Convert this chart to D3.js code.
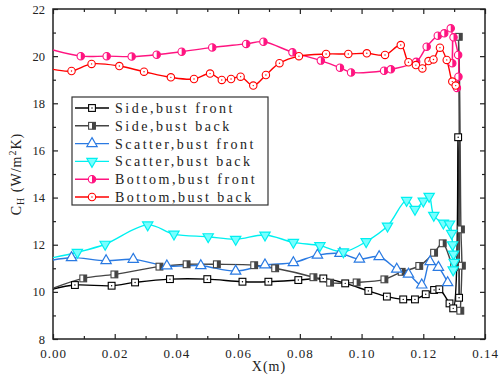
<!DOCTYPE html>
<html>
<head>
<meta charset="utf-8">
<script src="https://cdnjs.cloudflare.com/ajax/libs/d3/7.8.5/d3.min.js"></script>
<style>
  body { margin: 0; background: #fff; }
  svg { display: block; }
  text { font-family: "Liberation Serif", "DejaVu Serif", serif; fill: #222; }
</style>
</head>
<body>
<svg id="chart"></svg>
<script>
// data: [X (m), C_H (W/m2K)]
const sideFront = [
  [0, 10.12], [0.0071, 10.29], [0.019, 10.26], [0.0266, 10.40], [0.0379, 10.54], [0.050, 10.54],
  [0.0614, 10.43], [0.0698, 10.43], [0.0795, 10.50], [0.0876, 10.57], [0.0947, 10.36],
  [0.1022, 10.04], [0.1082, 9.80], [0.1135, 9.68], [0.1173, 9.68], [0.1208, 9.90],
  [0.1235, 10.08], [0.1252, 10.11], [0.1285, 9.51], [0.1297, 9.30], [0.1313, 16.56], [0.1316, 9.75]
];
const sideBack = [
  [0, 10.15], [0.0098, 10.57], [0.0199, 10.74], [0.0345, 11.07], [0.0433, 11.17], [0.0531, 11.17],
  [0.0652, 11.13], [0.0720, 11.0], [0.0844, 10.62], [0.0898, 10.39], [0.0984, 10.40],
  [0.1074, 10.53], [0.1130, 10.85], [0.1187, 11.10], [0.1235, 11.66], [0.1263, 12.06],
  [0.1300, 11.05], [0.1315, 20.82], [0.1322, 12.65], [0.1325, 11.11], [0.1320, 9.2]
];
const scatterFront = [
  [0, 11.35], [0.006, 11.45], [0.0172, 11.32], [0.026, 11.38], [0.0369, 11.10], [0.0479, 11.11],
  [0.0592, 10.88], [0.0687, 11.14], [0.0779, 11.24], [0.0857, 11.56], [0.093, 11.63],
  [0.0993, 11.39], [0.1057, 11.49], [0.1114, 10.96], [0.1152, 10.75], [0.1195, 10.29],
  [0.1222, 11.28], [0.1249, 11.04], [0.1279, 10.39]
];
const scatterBack = [
  [0, 11.45], [0.0079, 11.68], [0.0169, 12.02], [0.0307, 12.84], [0.0392, 12.45], [0.0503, 12.34],
  [0.0592, 12.23], [0.0687, 12.41], [0.0779, 12.10], [0.0865, 11.96], [0.0941, 11.70],
  [0.1015, 12.13], [0.1084, 12.79], [0.1146, 13.88], [0.1173, 13.5], [0.1200, 13.85],
  [0.1219, 14.05], [0.1234, 13.25], [0.1265, 12.92], [0.1285, 12.88], [0.1292, 12.48],
  [0.1295, 12.0], [0.1298, 11.6], [0.1300, 11.25], [0.1297, 10.93]
];
const bottomFront = [
  [0, 20.26], [0.009, 20.0], [0.0174, 20.0], [0.0255, 19.98], [0.0336, 20.06], [0.0417, 20.19],
  [0.0516, 20.37], [0.0626, 20.52], [0.0682, 20.61], [0.0776, 20.16], [0.0868, 19.81],
  [0.093, 19.51], [0.0966, 19.31], [0.1073, 19.38], [0.1095, 19.44], [0.1177, 19.76],
  [0.1211, 20.40], [0.1247, 20.87], [0.1268, 20.97], [0.1289, 21.18], [0.1294, 19.7],
  [0.1298, 20.8], [0.1313, 20.05], [0.1314, 19.13], [0.1309, 18.65]
];
const bottomBack = [
  [0, 19.44], [0.006, 19.37], [0.0125, 19.67], [0.0215, 19.58], [0.0295, 19.34], [0.0382, 19.10],
  [0.0457, 19.03], [0.0509, 19.26], [0.0547, 18.99], [0.0577, 19.03], [0.0608, 19.13],
  [0.0649, 18.75], [0.069, 19.20], [0.0734, 19.70], [0.0797, 20.0], [0.0885, 20.09],
  [0.0957, 20.09], [0.1017, 20.12], [0.1076, 20.05], [0.1127, 20.47], [0.1152, 19.74],
  [0.1176, 19.62], [0.1197, 19.48], [0.1217, 19.79], [0.1233, 19.86], [0.1254, 20.36],
  [0.1276, 19.84], [0.1294, 18.92], [0.1305, 18.75]
];

const legendNames = ["Side,bust front", "Side,bust back", "Scatter,bust front",
  "Scatter,bust back", "Bottom,bust front", "Bottom,bust back"];
const xTicks = [0, 0.02, 0.04, 0.06, 0.08, 0.10, 0.12, 0.14];
const yTicks = [8, 10, 12, 14, 16, 18, 20, 22];

const series = [
  { data: sideFront, color: "#000000", marker: "squareDot" },
  { data: sideBack, color: "#444444", marker: "squareHalf" },
  { data: scatterFront, color: "#2a7ae2", marker: "triUp" },
  { data: scatterBack, color: "#00f0f0", marker: "triDown" },
  { data: bottomFront, color: "#ff1480", marker: "circleHalf" },
  { data: bottomBack, color: "#ff0000", marker: "circleDot" }
];

const W = 501, H = 379;
const margin = { top: 9, right: 16, bottom: 40, left: 53 };
const width = W - margin.left - margin.right;
const height = H - margin.top - margin.bottom;

const svg = d3.select("#chart").attr("width", W).attr("height", H);
const g = svg.append("g").attr("transform", "translate(" + margin.left + "," + margin.top + ")");

const x = d3.scaleLinear().domain([0, 0.14]).range([0, width]);
const y = d3.scaleLinear().domain([8, 22]).range([height, 0]);

const xMinor = d3.range(0.01, 0.14, 0.02);
const yMinor = d3.range(9, 22, 2);

function styleAxis(sel, fs) {
  sel.select(".domain").remove();
  sel.selectAll("line").attr("stroke", "#222").attr("stroke-width", 1.2);
  sel.selectAll("text").attr("font-size", (fs || 13) + "px").attr("fill", "#333");
}

// bottom
g.append("g").attr("transform", "translate(0," + height + ")")
  .call(d3.axisBottom(x).tickValues(xTicks).tickSize(-5).tickPadding(10).tickFormat(d3.format(".2f")))
  .call(styleAxis)
  .selectAll("text").attr("letter-spacing", "1px");
g.append("g").attr("transform", "translate(0," + height + ")")
  .call(d3.axisBottom(x).tickValues(xMinor).tickSize(-3).tickFormat(""))
  .call(styleAxis);
// top
g.append("g").call(d3.axisTop(x).tickValues(xTicks).tickSize(-5).tickFormat("")).call(styleAxis);
g.append("g").call(d3.axisTop(x).tickValues(xMinor).tickSize(-3).tickFormat("")).call(styleAxis);
// left
g.append("g")
  .call(d3.axisLeft(y).tickValues(yTicks).tickSize(-5).tickPadding(8).tickFormat(d3.format("d")))
  .call(styleAxis, 12.5);
g.append("g").call(d3.axisLeft(y).tickValues(yMinor).tickSize(-3).tickFormat("")).call(styleAxis);
// right
g.append("g").attr("transform", "translate(" + width + ",0)")
  .call(d3.axisRight(y).tickValues(yTicks).tickSize(-5).tickFormat("")).call(styleAxis);
g.append("g").attr("transform", "translate(" + width + ",0)")
  .call(d3.axisRight(y).tickValues(yMinor).tickSize(-3).tickFormat("")).call(styleAxis);

// frame
g.append("rect").attr("width", width).attr("height", height)
  .attr("fill", "none").attr("stroke", "#222").attr("stroke-width", 1.5);

// axis titles
svg.append("text")
  .attr("x", margin.left + width / 2).attr("y", H - 8)
  .attr("text-anchor", "middle").attr("font-size", "14px").attr("letter-spacing", "1px").attr("fill", "#333")
  .text("X(m)");

const yt = svg.append("text")
  .attr("transform", "translate(21," + (margin.top + height / 2) + ") rotate(-90)")
  .attr("text-anchor", "middle").attr("font-size", "14px").attr("letter-spacing", "1px").attr("fill", "#333");
yt.append("tspan").text("C");
yt.append("tspan").attr("font-size", "10px").attr("dy", "3").text("H");
yt.append("tspan").attr("dy", "-3").text(" (W/m");
yt.append("tspan").attr("font-size", "10px").attr("dy", "-5").text("2");
yt.append("tspan").attr("dy", "5").text("K)");

// markers
function drawMarker(sel, type, color) {
  const r = 3.4;
  if (type === "squareDot" || type === "squareHalf") {
    sel.append("rect").attr("x", -r).attr("y", -r).attr("width", 2 * r).attr("height", 2 * r)
      .attr("fill", "#fff").attr("stroke", color).attr("stroke-width", 1.1);
    if (type === "squareDot") {
      sel.append("circle").attr("r", 0.7).attr("fill", color);
    } else {
      sel.append("rect").attr("x", 0).attr("y", -r).attr("width", r).attr("height", 2 * r).attr("fill", color);
    }
  } else if (type === "triUp" || type === "triDown") {
    sel.append("path")
      .attr("d", d3.symbol(d3.symbolTriangle, 46)())
      .attr("transform", type === "triDown" ? "rotate(180)" : null)
      .attr("fill", type === "triDown" ? "#7ff" : "#fff")
      .attr("stroke", color).attr("stroke-width", 1.2);
  } else {
    sel.append("circle").attr("r", r + 0.3).attr("fill", "#fff").attr("stroke", color).attr("stroke-width", 1.1);
    if (type === "circleDot") {
      sel.append("circle").attr("r", 0.7).attr("fill", color);
    } else {
      const rr = r + 0.3;
      sel.append("path").attr("d", "M0," + (-rr) + "A" + rr + "," + rr + " 0 0,1 0," + rr + "Z").attr("fill", color);
    }
  }
}

const line = d3.line()
  .x(d => x(d[0]))
  .y(d => y(d[1]))
  .curve(d3.curveCatmullRom.alpha(0.5));

svg.append("defs").append("clipPath").attr("id", "plotClip")
  .append("rect").attr("width", width).attr("height", height);

const plot = g.append("g").attr("clip-path", "url(#plotClip)");

series.forEach(s => {
  plot.append("path")
    .datum(s.data)
    .attr("fill", "none")
    .attr("stroke", s.color)
    .attr("stroke-width", 1.4)
    .attr("d", line);
});

series.forEach(s => {
  plot.append("g").selectAll("g")
    .data(s.data.filter(d => d[0] > 0))
    .join("g")
    .attr("transform", d => "translate(" + x(d[0]) + "," + y(d[1]) + ")")
    .each(function() { drawMarker(d3.select(this), s.marker, s.color); });
});

// legend
const legend = svg.append("g").attr("transform", "translate(72,97)");
legend.append("rect").attr("width", 196).attr("height", 108)
  .attr("fill", "#fff").attr("stroke", "#333").attr("stroke-width", 1.2);
series.forEach((s, i) => {
  const row = legend.append("g").attr("transform", "translate(0," + (11 + i * 17.8) + ")");
  row.append("line").attr("x1", 3).attr("x2", 37).attr("stroke", s.color).attr("stroke-width", 1.4);
  drawMarker(row.append("g").attr("transform", "translate(20,0)"), s.marker, s.color);
  row.append("text").attr("x", 43).attr("dy", "0.35em").attr("font-size", "14px")
    .attr("letter-spacing", "2.5px").attr("fill", "#333")
    .text(legendNames[i]);
});
</script>
</body>
</html>
